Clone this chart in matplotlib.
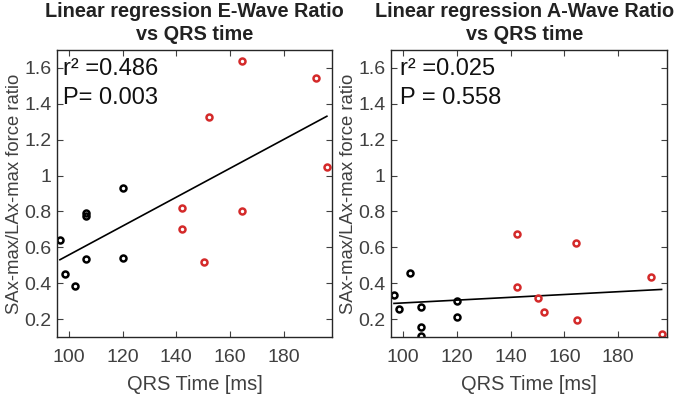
import numpy as np
import matplotlib
matplotlib.use("Agg")
import matplotlib.pyplot as plt

plt.rcParams['font.family'] = ['Liberation Sans', 'DejaVu Sans']

qrs_black = [96.6, 98.6, 102.4, 106.5, 106.5, 106.5, 120.0, 120.0]
qrs_red = [142.2, 142.2, 150.3, 152.3, 164.3, 164.5, 192.0, 196.1]

e_black = [0.64, 0.45, 0.385, 0.793, 0.773, 0.535, 0.54, 0.93]
e_red = [0.818, 0.70, 0.517, 1.326, 0.80, 1.64, 1.543, 1.05]

a_black = [0.333, 0.256, 0.459, 0.268, 0.153, 0.107, 0.302, 0.213]
a_red = [0.672, 0.381, 0.32, 0.237, 0.626, 0.196, 0.435, 0.119]

titles = ["Linear regression E-Wave Ratio\nvs QRS time",
          "Linear regression A-Wave Ratio\nvs QRS time"]
r2_texts = ["r\u00b2 =0.486", "r\u00b2 =0.025"]
p_texts = ["P= 0.003", "P = 0.558"]
xticks = [100, 120, 140, 160, 180]
yticks = [0.2, 0.4, 0.6, 0.8, 1.0, 1.2, 1.4, 1.6]
yticklabels = ["0.2", "0.4", "0.6", "0.8", "1", "1.2", "1.4", "1.6"]

fig = plt.figure(figsize=(6.75, 3.98), dpi=100)
axes = [fig.add_axes([0.0844, 0.1533, 0.4074, 0.721]),
        fig.add_axes([0.5793, 0.1533, 0.4084, 0.721])]
text_x = [0.022, 0.033]
title_x = [0.5, 0.484]

red = '#d42a2a'
gray = '#404040'
for i, (ax, yb, yr, title) in enumerate(zip(axes, [e_black, a_black], [e_red, a_red], titles)):
    x = np.array(qrs_black + qrs_red)
    y = np.array(yb + yr)
    k, b = np.polyfit(x, y, 1)
    xl = np.array([x.min(), x.max()])
    ax.plot(xl, k * xl + b, color='black', lw=1.2)
    ax.plot(qrs_black, yb, 'o', mfc='none', mec='black', mew=1.8, ms=4.3, ls='none')
    ax.plot(qrs_red, yr, 'o', mfc='none', mec=red, mew=1.8, ms=4.3, ls='none')
    ax.set_xlim(95.5, 198)
    ax.set_ylim(0.1, 1.7)
    ax.set_xticks(xticks)
    ax.set_yticks(yticks)
    ax.set_yticklabels(yticklabels)
    ax.tick_params(direction='in', top=True, right=True, labelsize=14,
                   colors=gray, length=4, width=0.8, labelcolor=gray)
    ax.tick_params(axis='x', pad=9)
    ax.tick_params(axis='y', pad=4)
    for s in ax.spines.values():
        s.set_color('#262626')
        s.set_linewidth(1.0)
    ax.set_title(title, fontsize=14.3, fontweight='bold', color='#222222', pad=7,
                 linespacing=1.28, x=title_x[i])
    ax.set_xlabel("QRS Time [ms]", fontsize=14.4, color=gray, labelpad=6)
    ax.set_ylabel("SAx-max/LAx-max force ratio", fontsize=13.3, color=gray, labelpad=1)
    ax.text(text_x[i], 0.913, r2_texts[i], transform=ax.transAxes, fontsize=17,
            va='baseline', ha='left', color='#111111')
    ax.text(text_x[i], 0.812, p_texts[i], transform=ax.transAxes, fontsize=17,
            va='baseline', ha='left', color='#111111')

fig.savefig("out.png", dpi=100)
